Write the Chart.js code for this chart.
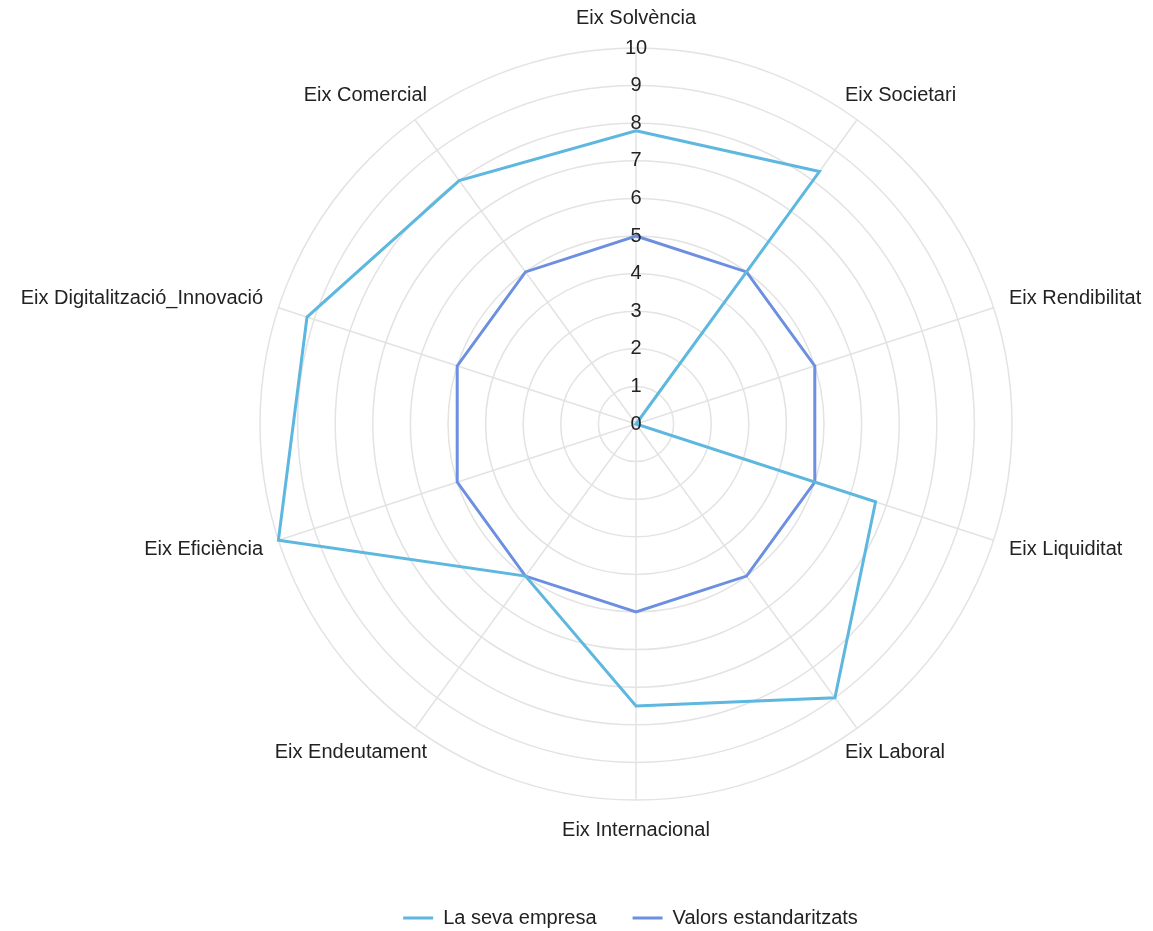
<!DOCTYPE html>
<html>
<head>
<meta charset="utf-8">
<script src="https://cdn.jsdelivr.net/npm/chart.js@4/dist/chart.umd.min.js"></script>
<style>
  html, body { margin: 0; padding: 0; background: #fff; }
  #wrap { width: 1153px; height: 931px; }
</style>
</head>
<body>
<div id="wrap"><canvas id="myChart"></canvas></div>
<script>
const axes = [
  'Eix Solvència', 'Eix Societari', 'Eix Rendibilitat', 'Eix Liquiditat', 'Eix Laboral',
  'Eix Internacional', 'Eix Endeutament', 'Eix Eficiència', 'Eix Digitalització_Innovació', 'Eix Comercial'
]
const companyValues = [7.8, 8.3, 0, 6.7, 9.0, 7.5, 5.0, 10, 9.2, 8.0]
const standardValues = [5, 5, 5, 5, 5, 5, 5, 5, 5, 5]

const font = { family: 'Liberation Sans, Arial', size: 20 }
const textColor = '#222'

// where the radar sits on the page (chart.js auto-fit leaves it too small)
const radarCenter = { x: 636, y: 424 }
const radarRadius = 376
const labelDistance = 406

// move the fitted scale to the wanted centre/radius and put the axis names
// vertically centred on a ring just outside the grid
function placeRadar(scale) {
  scale.xCenter = radarCenter.x
  scale.yCenter = radarCenter.y
  scale.drawingArea = radarRadius
  const lineHeight = font.size * 1.2
  ;(scale._pointLabelItems || []).forEach((item, i) => {
    const a = scale.getIndexAngle(i) - Math.PI / 2
    const cos = Math.cos(a)
    const sin = Math.sin(a)
    const w = item.right - item.left
    const px = radarCenter.x + labelDistance * cos
    const py = radarCenter.y + labelDistance * sin
    const inset = 3 + 33 * Math.abs(sin)
    let x
    let left
    if (Math.abs(cos) < 0.01) {
      item.textAlign = 'center'
      x = px
      left = px - w / 2
    } else if (cos > 0) {
      item.textAlign = 'left'
      x = px - inset
      left = x
    } else {
      item.textAlign = 'right'
      x = px + inset
      left = x - w
    }
    item.x = x
    item.y = py - lineHeight / 2
    item.left = left
    item.right = left + w
    item.top = item.y
    item.bottom = item.y + lineHeight
  })
}

// radialLinear skips the first tick label, so draw the "0" at the centre
const zeroLabel = {
  id: 'zeroLabel',
  afterDatasetsDraw(chart) {
    const r = chart.scales.r
    const ctx = chart.ctx
    const p = r.getPointPositionForValue(0, 0)
    ctx.save()
    ctx.font = font.size + 'px ' + font.family
    ctx.fillStyle = textColor
    ctx.textAlign = 'center'
    ctx.textBaseline = 'middle'
    ctx.fillText('0', p.x, p.y)
    ctx.restore()
  },
}

const chartConfig = {
  type: 'radar',
  data: {
    labels: axes,
    datasets: [
      {
        label: 'La seva empresa',
        data: companyValues,
        borderColor: '#5db7de',
        backgroundColor: 'rgba(0,0,0,0)',
        borderWidth: 3,
        pointRadius: 0,
        fill: false,
      },
      {
        label: 'Valors estandaritzats',
        data: standardValues,
        borderColor: '#6d8fe0',
        backgroundColor: 'rgba(0,0,0,0)',
        borderWidth: 3,
        pointRadius: 0,
        fill: false,
      },
    ],
  },
  options: {
    responsive: true,
    maintainAspectRatio: false,
    animation: false,
    layout: { padding: { left: 108, right: 0, top: 0, bottom: -7 } },
    plugins: {
      legend: {
        position: 'bottom',
        labels: {
          usePointStyle: true,
          pointStyle: 'line',
          pointStyleWidth: 30,
          color: textColor,
          font: font,
          padding: 36,
        },
      },
      tooltip: { enabled: false },
    },
    scales: {
      r: {
        min: 0,
        max: 10,
        afterFit: placeRadar,
        ticks: {
          stepSize: 1,
          showLabelBackdrop: false,
          color: textColor,
          font: font,
          z: 1,
        },
        grid: { circular: true, color: '#e3e3e3', lineWidth: 1.5 },
        angleLines: { color: '#e3e3e3', lineWidth: 1.5 },
        pointLabels: {
          color: textColor,
          font: font,
          padding: 16,
        },
      },
    },
  },
  plugins: [zeroLabel],
}

new Chart(document.getElementById('myChart').getContext('2d'), chartConfig)
</script>
</body>
</html>
